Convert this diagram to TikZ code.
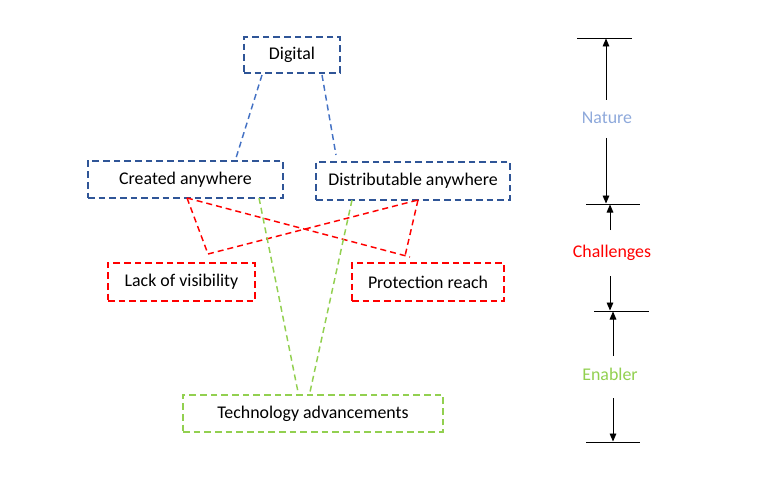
\documentclass[tikz,border=0pt]{standalone}
\usepackage{fontspec}
\setmainfont{Carlito}
\usepackage{xcolor}
\usepackage{tikz}
\usetikzlibrary{positioning}
\usetikzlibrary{arrows.meta}
\pgfdeclarelayer{nodelayer}
\pgfdeclarelayer{edgelayer}
\pgfsetlayers{nodelayer,edgelayer,main}
\definecolor{boxblue}{HTML}{2F5597}
\definecolor{lineblue}{HTML}{4472C4}
\definecolor{natureblue}{HTML}{8EA9DB}
\definecolor{enablergreen}{HTML}{92D050}
\tikzset{
    none/.style = {inner sep=0pt},
    box/.style = {draw, dash pattern=on 5pt off 3pt, line width=1.35pt, inner sep=0pt, font=\fontsize{13.4}{16}\selectfont},
    bluebox/.style = {box, draw=boxblue},
    redbox/.style = {box, draw=red},
    greenbox/.style = {box, draw=enablergreen},
    link/.style = {dash pattern=on 4.5pt off 3pt, line width=1.1pt},
    level/.style = {line width=0.7pt},
    span/.style = {-{Triangle[length=6pt,width=5pt]}, line width=0.7pt},
    tag/.style = {inner sep=0pt, font=\fontsize{13.4}{16}\selectfont}
}

\begin{document}
\begin{tikzpicture}[x=0.75pt, y=-0.75pt]
    \useasboundingbox (0, 0) rectangle (762, 477);
    \begin{pgfonlayer}{nodelayer}
        \node [style=bluebox, minimum width=72pt, minimum height=27pt] (0) at (292, 55) {Digital};
        \node [style=bluebox, minimum width=146.25pt, minimum height=27.75pt] (1) at (185.5, 179.5) {Created anywhere};
        \node [style=bluebox, minimum width=145.5pt, minimum height=28.5pt] (2) at (413, 181) {Distributable anywhere};
        \node [style=redbox, minimum width=110.25pt, minimum height=28.5pt] (3) at (181.5, 282) {Lack of visibility};
        \node [style=redbox, minimum width=114pt, minimum height=28.5pt] (4) at (428, 282) {Protection reach};
        \node [style=greenbox, minimum width=195pt, minimum height=27.75pt] (5) at (313, 413.5) {Technology advancements};

        \node [style=none] (10) at (262, 75) {};
        \node [style=none] (11) at (236, 158) {};
        \node [style=none] (12) at (322, 75) {};
        \node [style=none] (13) at (336, 155) {};
        \node [style=none] (14) at (187, 198) {};
        \node [style=none] (15) at (208, 254) {};
        \node [style=none] (16) at (410, 257) {};
        \node [style=none] (17) at (418, 200) {};
        \node [style=none] (18) at (405, 256) {};
        \node [style=none] (19) at (259, 198) {};
        \node [style=none] (20) at (298, 392) {};
        \node [style=none] (21) at (352, 200) {};
        \node [style=none] (22) at (310, 392) {};

        \node [style=none] (30) at (577, 38) {};
        \node [style=none] (31) at (632, 38) {};
        \node [style=none] (32) at (586, 204) {};
        \node [style=none] (33) at (640, 204) {};
        \node [style=none] (34) at (594, 311) {};
        \node [style=none] (35) at (649, 311) {};
        \node [style=none] (36) at (586, 442) {};
        \node [style=none] (37) at (640, 442) {};

        \node [style=tag, text=natureblue] (40) at (607, 118) {Nature};
        \node [style=tag, text=red] (41) at (612, 253) {Challenges};
        \node [style=tag, text=enablergreen] (42) at (610, 374) {Enabler};

        \node [style=none] (50) at (606, 100) {};
        \node [style=none] (51) at (606, 38.5) {};
        \node [style=none] (52) at (606, 138) {};
        \node [style=none] (53) at (606, 203.5) {};
        \node [style=none] (54) at (610, 230) {};
        \node [style=none] (55) at (610, 204.5) {};
        \node [style=none] (56) at (610, 276) {};
        \node [style=none] (57) at (610, 310.5) {};
        \node [style=none] (58) at (613, 356) {};
        \node [style=none] (59) at (613, 311.5) {};
        \node [style=none] (60) at (613, 398) {};
        \node [style=none] (61) at (613, 441.5) {};
    \end{pgfonlayer}
    \begin{pgfonlayer}{edgelayer}
        \draw [style=link, lineblue] (10.center) to (11.center);
        \draw [style=link, lineblue] (12.center) to (13.center);
        \draw [style=link, red] (14.center) to (15.center);
        \draw [style=link, red] (15.center) to (17.center);
        \draw [style=link, red] (14.center) to (16.center);
        \draw [style=link, red] (17.center) to (18.center);
        \draw [style=link, enablergreen] (19.center) to (20.center);
        \draw [style=link, enablergreen] (21.center) to (22.center);

        \draw [style=level] (30.center) to (31.center);
        \draw [style=level] (32.center) to (33.center);
        \draw [style=level] (34.center) to (35.center);
        \draw [style=level] (36.center) to (37.center);

        \draw [style=span] (50.center) to (51.center);
        \draw [style=span] (52.center) to (53.center);
        \draw [style=span] (54.center) to (55.center);
        \draw [style=span] (56.center) to (57.center);
        \draw [style=span] (58.center) to (59.center);
        \draw [style=span] (60.center) to (61.center);
    \end{pgfonlayer}
\end{tikzpicture}
\end{document}
